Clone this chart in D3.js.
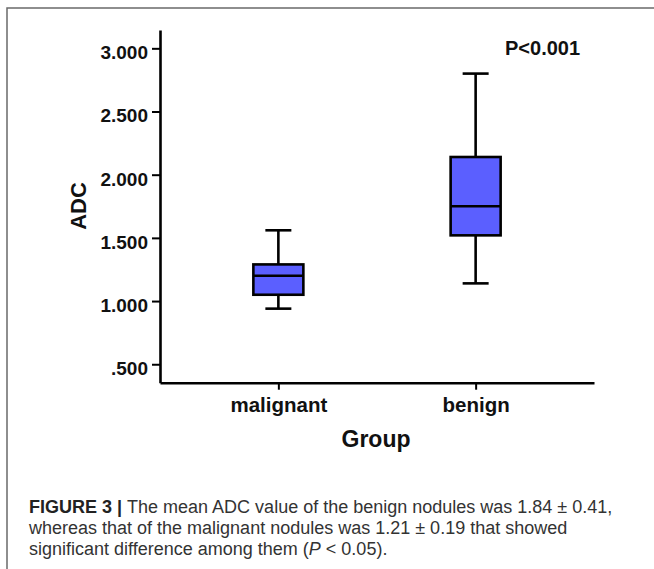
<!DOCTYPE html>
<html>
<head>
<meta charset="utf-8">
<script src="https://cdn.jsdelivr.net/npm/d3@7"></script>
<style>
  body { margin: 0; background: #fff; }
  svg { display: block; font-family: "Liberation Sans", Arial, sans-serif; }
</style>
</head>
<body>
<svg id="chart" width="654" height="569"></svg>
<script>
// Box plot summaries
const groups = ["malignant", "benign"];
const whiskerLow = [0.94, 1.14];
const q1 = [1.05, 1.52];
const median = [1.20, 1.75];
const q3 = [1.29, 2.14];
const whiskerHigh = [1.56, 2.80];
const yTicks = [0.5, 1.0, 1.5, 2.0, 2.5, 3.0];
const yTickLabels = [".500", "1.000", "1.500", "2.000", "2.500", "3.000"];

const boxes = groups.map((g, i) => ({
  group: g, lo: whiskerLow[i], q1: q1[i], med: median[i], q3: q3[i], hi: whiskerHigh[i]
}));

const svg = d3.select("#chart");

// Outer figure frame
svg.append("rect")
  .attr("x", 7).attr("y", 8)
  .attr("width", 700).attr("height", 600)
  .attr("fill", "none")
  .attr("stroke", "#6a6a6a")
  .attr("stroke-width", 1.5);

// Scales
const x = d3.scalePoint()
  .domain(groups)
  .range([160, 594])
  .padding(0.6);

const y = d3.scaleLinear()
  .domain([0.354, 3.145])
  .range([382.7, 30]);

// Y axis
const yAxis = svg.append("g")
  .attr("transform", "translate(160,0)")
  .call(d3.axisLeft(y)
    .tickValues(yTicks)
    .tickFormat((d, i) => yTickLabels[i])
    .tickSize(8)
    .tickPadding(4)
    .tickSizeOuter(0));
yAxis.select(".domain").attr("stroke", "#000").attr("stroke-width", 2.6);
yAxis.selectAll(".tick line").attr("stroke", "#000").attr("stroke-width", 2);
yAxis.selectAll(".tick text")
  .attr("dy", "0.55em")
  .attr("fill", "#111")
  .style("font-size", "19px")
  .style("font-weight", "bold")
  .style("font-family", "'Liberation Sans', Arial, sans-serif");

// X axis
const xAxis = svg.append("g")
  .attr("transform", "translate(0,382.7)")
  .call(d3.axisBottom(x)
    .tickSize(7)
    .tickPadding(8)
    .tickSizeOuter(0));
xAxis.select(".domain").attr("stroke", "#000").attr("stroke-width", 2.6);
xAxis.selectAll(".tick line").attr("stroke", "#000").attr("stroke-width", 2);
xAxis.selectAll(".tick text")
  .attr("fill", "#111")
  .style("font-size", "20.5px")
  .style("font-weight", "bold")
  .style("font-family", "'Liberation Sans', Arial, sans-serif");

// Axis titles
svg.append("text")
  .attr("transform", "translate(86,206) rotate(-90)")
  .attr("text-anchor", "middle")
  .attr("fill", "#111")
  .style("font-size", "22px")
  .style("font-weight", "bold")
  .text("ADC");

svg.append("text")
  .attr("x", 376)
  .attr("y", 447)
  .attr("text-anchor", "middle")
  .attr("fill", "#111")
  .style("font-size", "23px")
  .style("font-weight", "bold")
  .text("Group");

svg.append("text")
  .attr("x", 505)
  .attr("y", 54.5)
  .attr("fill", "#111")
  .style("font-size", "20px")
  .style("font-weight", "bold")
  .text("P<0.001");

// Box plots
const boxW = 50;
const capW = 26;
const bp = svg.append("g").selectAll("g")
  .data(boxes)
  .join("g");

// whiskers
bp.append("line")
  .attr("x1", d => x(d.group)).attr("x2", d => x(d.group))
  .attr("y1", d => y(d.hi)).attr("y2", d => y(d.q3))
  .attr("stroke", "#000").attr("stroke-width", 2.6);
bp.append("line")
  .attr("x1", d => x(d.group)).attr("x2", d => x(d.group))
  .attr("y1", d => y(d.q1)).attr("y2", d => y(d.lo))
  .attr("stroke", "#000").attr("stroke-width", 2.6);
// caps
bp.append("line")
  .attr("x1", d => x(d.group) - capW / 2).attr("x2", d => x(d.group) + capW / 2)
  .attr("y1", d => y(d.hi)).attr("y2", d => y(d.hi))
  .attr("stroke", "#000").attr("stroke-width", 2.6);
bp.append("line")
  .attr("x1", d => x(d.group) - capW / 2).attr("x2", d => x(d.group) + capW / 2)
  .attr("y1", d => y(d.lo)).attr("y2", d => y(d.lo))
  .attr("stroke", "#000").attr("stroke-width", 2.6);
// box
bp.append("rect")
  .attr("x", d => x(d.group) - boxW / 2)
  .attr("width", boxW)
  .attr("y", d => y(d.q3))
  .attr("height", d => y(d.q1) - y(d.q3))
  .attr("fill", "#5b5fff")
  .attr("stroke", "#000")
  .attr("stroke-width", 2.6);
// median
bp.append("line")
  .attr("x1", d => x(d.group) - boxW / 2).attr("x2", d => x(d.group) + boxW / 2)
  .attr("y1", d => y(d.med)).attr("y2", d => y(d.med))
  .attr("stroke", "#000").attr("stroke-width", 2.6);

// Caption
const captionLines = [
  [{ t: "FIGURE 3 | ", b: true }, { t: "The mean ADC value of the benign nodules was 1.84 \u00b1 0.41," }],
  [{ t: "whereas that of the malignant nodules was 1.21 \u00b1 0.19 that showed" }],
  [{ t: "significant difference among them (" }, { t: "P", i: true }, { t: " < 0.05)." }]
];
const cap = svg.append("text")
  .attr("fill", "#333")
  .style("font-size", "18px");
captionLines.forEach((parts, li) => {
  parts.forEach((p, pi) => {
    const ts = cap.append("tspan").text(p.t);
    if (pi === 0) ts.attr("x", 29).attr("y", 512.7 + li * 21);
    if (p.b) ts.style("font-weight", "bold").attr("fill", "#222");
    if (p.i) ts.style("font-style", "italic");
  });
});
</script>
</body>
</html>
